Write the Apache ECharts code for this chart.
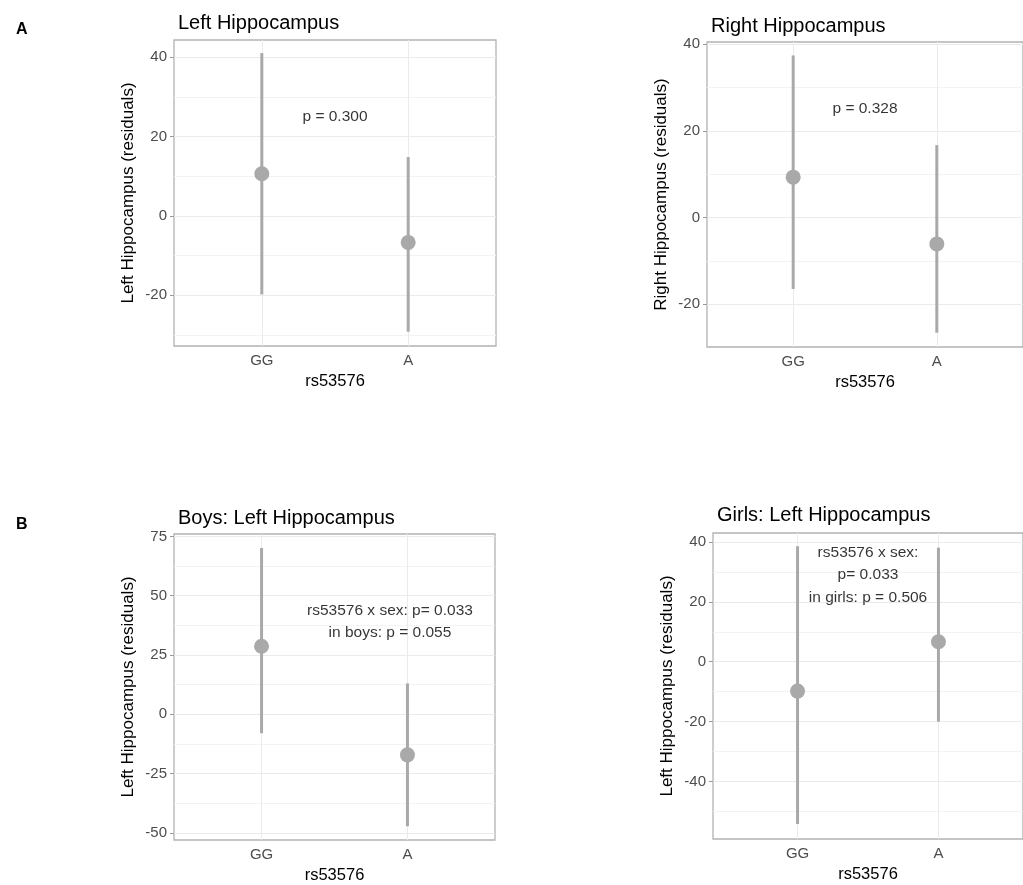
<!DOCTYPE html>
<html>
<head>
<meta charset="utf-8">
<title>rs53576 and hippocampus</title>
<script src="https://cdn.jsdelivr.net/npm/echarts@6/dist/echarts.min.js"></script>
<style>
  html, body { margin: 0; padding: 0; background: #fff; }
  #chart { width: 1023px; height: 885px; }
</style>
</head>
<body>
<div id="chart"></div>
<script>
// genotype groups (x positions 1 and 2, like ggplot's discrete scale)
var categories = ['GG', 'A'];

// mean and error bar ends
var leftMean = [10.6, -6.7];
var leftLow = [-19.8, -29.2];
var leftHigh = [41.0, 14.8];

var rightMean = [9.3, -6.1];
var rightLow = [-16.5, -26.6];
var rightHigh = [37.4, 16.7];

var boysMean = [28.7, -17.1];
var boysLow = [-8.0, -47.2];
var boysHigh = [70.1, 13.0];

var girlsMean = [-9.8, 6.7];
var girlsLow = [-54.2, -20.0];
var girlsHigh = [38.6, 38.1];

// y tick labels (major) and minor grid values
var leftTicks = [-20, 0, 20, 40];
var leftMinor = [-30, -10, 10, 30];
var rightTicks = [-20, 0, 20, 40];
var rightMinor = [-10, 10, 30];
var boysTicks = [-50, -25, 0, 25, 50, 75];
var boysMinor = [-37.5, -12.5, 12.5, 37.5, 62.5];
var girlsTicks = [-40, -20, 0, 20, 40];
var girlsMinor = [-50, -30, -10, 10, 30];

// p-value notes
var leftNote = ['p = 0.300'];
var rightNote = ['p = 0.328'];
var boysNote = ['rs53576 x sex: p= 0.033\nin boys: p = 0.055'];
var girlsNote = ['rs53576 x sex:\np= 0.033\nin girls: p = 0.506'];

var FONT = '"Liberation Sans", Arial, sans-serif';
var GREY = '#a9a9a9';

var panels = [
  { title: 'Left Hippocampus', ylab: 'Left Hippocampus (residuals)',
    grid: { left: 174, top: 40, width: 322, height: 306 }, titleTop: 8,
    ymin: -32.8, ymax: 44.3, ticks: leftTicks, minor: leftMinor,
    mean: leftMean, low: leftLow, high: leftHigh, note: leftNote, noteAt: [1.5, 25] },
  { title: 'Right Hippocampus', ylab: 'Right Hippocampus (residuals)',
    grid: { left: 707, top: 42, width: 322, height: 305 }, titleTop: 11,
    ymin: -29.9, ymax: 40.5, ticks: rightTicks, minor: rightMinor,
    mean: rightMean, low: rightLow, high: rightHigh, note: rightNote, noteAt: [1.5, 25] },
  { title: 'Boys: Left Hippocampus', ylab: 'Left Hippocampus (residuals)',
    grid: { left: 174, top: 534, width: 321, height: 307 }, titleTop: 503,
    ymin: -53, ymax: 76, ticks: boysTicks, minor: boysMinor,
    mean: boysMean, low: boysLow, high: boysHigh, note: boysNote, noteAt: [1.88, 39] },
  { title: 'Girls: Left Hippocampus', ylab: 'Left Hippocampus (residuals)',
    grid: { left: 713, top: 533, width: 322, height: 306 }, titleTop: 500,
    ymin: -59.2, ymax: 43, ticks: girlsTicks, minor: girlsMinor,
    mean: girlsMean, low: girlsLow, high: girlsHigh, note: girlsNote, noteAt: [1.5, 29] }
];

var option = {
  animation: false,
  backgroundColor: '#fff',
  textStyle: { fontFamily: FONT },
  title: [
    { text: 'A', left: 11, top: 17, textStyle: { fontFamily: FONT, fontSize: 16, fontWeight: 'bold', color: '#000' } },
    { text: 'B', left: 11, top: 512, textStyle: { fontFamily: FONT, fontSize: 16, fontWeight: 'bold', color: '#000' } }
  ],
  grid: [], xAxis: [], yAxis: [], series: []
};

panels.forEach(function (p, i) {
  option.title.push({
    text: p.title, left: p.grid.left - 1, top: p.titleTop,
    textStyle: { fontFamily: FONT, fontSize: 20, fontWeight: 'normal', color: '#000' }
  });
  option.grid.push({
    left: p.grid.left, top: p.grid.top, width: p.grid.width, height: p.grid.height,
    show: true, borderColor: '#b3b3b3', borderWidth: 1.3, backgroundColor: 'transparent'
  });
  option.xAxis.push({
    type: 'value', gridIndex: i, min: 0.4, max: 2.6,
    name: 'rs53576', nameLocation: 'middle', nameGap: 27,
    nameTextStyle: { fontFamily: FONT, fontSize: 16.5, color: '#000' },
    axisLine: { show: false },
    axisTick: { show: true, length: 4, customValues: [1, 2], lineStyle: { color: '#999' } },
    axisLabel: {
      customValues: [1, 2], margin: 7, fontSize: 15, color: '#4d4d4d', fontFamily: FONT,
      formatter: function (v) { return categories[Math.round(v) - 1]; }
    },
    splitLine: { show: true, lineStyle: { color: '#ebebeb', width: 1 } }
  });
  // major axis with labels
  option.yAxis.push({
    type: 'value', gridIndex: i, min: p.ymin, max: p.ymax, position: 'left',
    name: p.ylab, nameLocation: 'middle', nameGap: 37,
    nameTextStyle: { fontFamily: FONT, fontSize: 17, color: '#000' },
    axisLine: { show: false },
    axisTick: { show: true, length: 4, customValues: p.ticks, lineStyle: { color: '#999' } },
    axisLabel: { customValues: p.ticks, margin: 7, fontSize: 15, color: '#4d4d4d', fontFamily: FONT },
    splitLine: { show: true, lineStyle: { color: '#ebebeb', width: 1 } }
  });
  // minor grid only
  option.yAxis.push({
    type: 'value', gridIndex: i, min: p.ymin, max: p.ymax, position: 'left',
    axisLine: { show: false },
    axisTick: { show: false, customValues: p.minor },
    axisLabel: { show: false, customValues: p.minor },
    splitLine: { show: true, lineStyle: { color: '#f3f3f3', width: 1 } }
  });

  var yIdx = i * 2;
  var bars = categories.map(function (c, k) { return [k + 1, p.low[k], p.high[k]]; });
  var pts = categories.map(function (c, k) { return [k + 1, p.mean[k]]; });

  option.series.push({
    type: 'custom', xAxisIndex: i, yAxisIndex: yIdx, data: bars,
    encode: { x: 0, y: [1, 2] }, silent: true, z: 2,
    renderItem: function (params, api) {
      var x = api.value(0);
      var a = api.coord([x, api.value(1)]);
      var b = api.coord([x, api.value(2)]);
      return {
        type: 'line',
        shape: { x1: a[0], y1: a[1], x2: b[0], y2: b[1] },
        style: { stroke: GREY, lineWidth: 3 }
      };
    }
  });
  option.series.push({
    type: 'scatter', xAxisIndex: i, yAxisIndex: yIdx, data: pts,
    symbolSize: 15, itemStyle: { color: GREY, opacity: 1 }, silent: true, z: 3
  });
  option.series.push({
    type: 'scatter', xAxisIndex: i, yAxisIndex: yIdx,
    data: [[p.noteAt[0], p.noteAt[1], p.note[0]]],
    symbolSize: 0, silent: true, z: 4,
    label: {
      show: true, position: 'inside', formatter: function (d) { return d.value[2]; },
      fontFamily: FONT, fontSize: 15.5, color: '#000', lineHeight: 22.5, align: 'center'
    }
  });
});

var chart = echarts.init(document.getElementById('chart'), null, { renderer: 'canvas' });
chart.setOption(option);
</script>
</body>
</html>
